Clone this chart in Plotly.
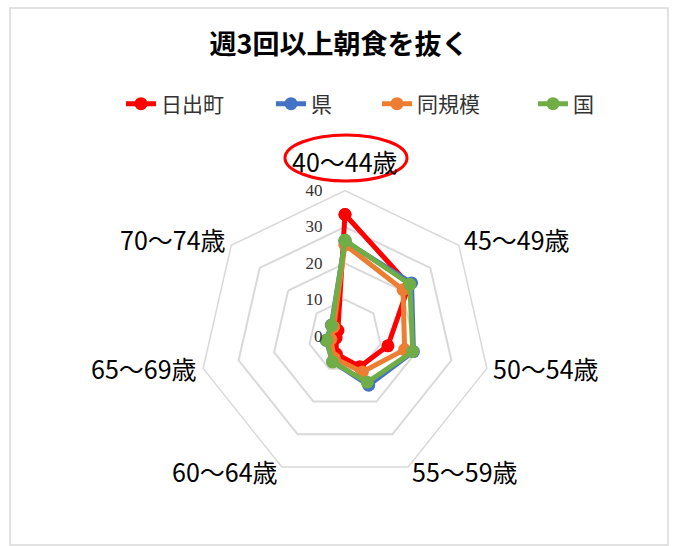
import plotly.graph_objects as go

# Age groups around the radar (clockwise from the top)
categories = ["40～44歳", "45～49歳", "50～54歳", "55～59歳", "60～64歳", "65～69歳", "70～74歳"]

# Share (%) skipping breakfast 3+ times a week
hinode = [33.4, 22.5, 12.1, 9.4, 5.5, 2.5, 2.5]
ken = [26.0, 23.4, 19.3, 15.0, 7.8, 5.3, 4.8]
doukibo = [25.1, 20.4, 16.8, 11.0, 6.8, 4.0, 4.0]
kuni = [26.3, 22.8, 19.1, 14.1, 7.9, 5.2, 4.7]

series_names = ["日出町", "県", "同規模", "国"]
series_values = [hinode, ken, doukibo, kuni]
series_colors = ["#ff0000", "#4472c4", "#ed7d31", "#70ad47"]

radial_ticks = [0, 10, 20, 30, 40]

W, H = 678, 546
cx, cy, R = 345, 336, 145.5

# left edge (px) of each legend entry's text
legend_text_x = [163, 313, 419, 575]

# centre (px) of each category label
label_xy = [(345, 161), (517, 239), (546, 368), (465, 471),
            (225, 471), (144, 368), (173, 239)]

fig = go.Figure()
for i, (name, vals, col) in enumerate(zip(series_names, series_values, series_colors)):
    fig.add_trace(go.Scatterpolar(
        r=vals + vals[:1],
        theta=categories + categories[:1],
        name=name,
        mode="lines+markers",
        line=dict(color=col, width=5),
        marker=dict(color=col, size=13),
        legend="legend" if i == 0 else f"legend{i + 1}",
    ))

legend_font = dict(family="Noto Sans CJK JP", size=21, color="#333333")
legends = {}
for i, tx in enumerate(legend_text_x):
    key = "legend" if i == 0 else f"legend{i + 1}"
    legends[key] = dict(
        orientation="h",
        x=(tx - 42) / W, xanchor="left", y=1 - 104 / H, yanchor="middle",
        font=legend_font, bgcolor="rgba(0,0,0,0)",
    )

annotations = [
    dict(text=cat, xref="paper", yref="paper", x=px / W, y=1 - py / H,
         xanchor="center", yanchor="middle", showarrow=False,
         font=dict(family="Noto Sans CJK JP", size=25, color="#000000"))
    for cat, (px, py) in zip(categories, label_xy)
]

fig.update_layout(
    width=W, height=H,
    showlegend=True,
    margin=dict(l=0, r=0, t=0, b=0),
    paper_bgcolor="white",
    plot_bgcolor="white",
    title=dict(
        text="<b>週3回以上朝食を抜く</b>",
        x=0.5, xanchor="center", y=1 - 45 / H, yanchor="middle",
        font=dict(family="Noto Sans CJK JP", size=27, color="#000000"),
    ),
    polar=dict(
        domain=dict(x=[(cx - R) / W, (cx + R) / W], y=[1 - (cy + R) / H, 1 - (cy - R) / H]),
        bgcolor="white",
        gridshape="linear",
        radialaxis=dict(
            range=[0, 40],
            tickvals=radial_ticks,
            angle=90,
            tickangle=90,
            side="counterclockwise",
            showline=False,
            ticks="outside",
            ticklen=16,
            tickcolor="rgba(0,0,0,0)",
            gridcolor="#d9d9d9",
            gridwidth=1.5,
            tickfont=dict(family="Liberation Serif", size=17, color="#333333"),
        ),
        angularaxis=dict(
            direction="clockwise",
            rotation=90,
            showgrid=False,
            showline=True,
            linecolor="#d9d9d9",
            linewidth=1.5,
            ticks="",
            showticklabels=False,
        ),
    ),
    annotations=annotations,
    shapes=[
        # chart frame
        dict(type="rect", xref="paper", yref="paper",
             x0=10 / W, x1=668 / W, y0=1 - 545 / H, y1=1 - 8 / H,
             line=dict(color="#d9d9d9", width=1.5)),
        # highlight ring around the top age group
        dict(type="circle", xref="paper", yref="paper",
             x0=285 / W, x1=407 / W, y0=1 - 181 / H, y1=1 - 135 / H,
             line=dict(color="#ff0000", width=3)),
    ],
)
fig.update_layout(**legends)

fig.write_html("out.html")
